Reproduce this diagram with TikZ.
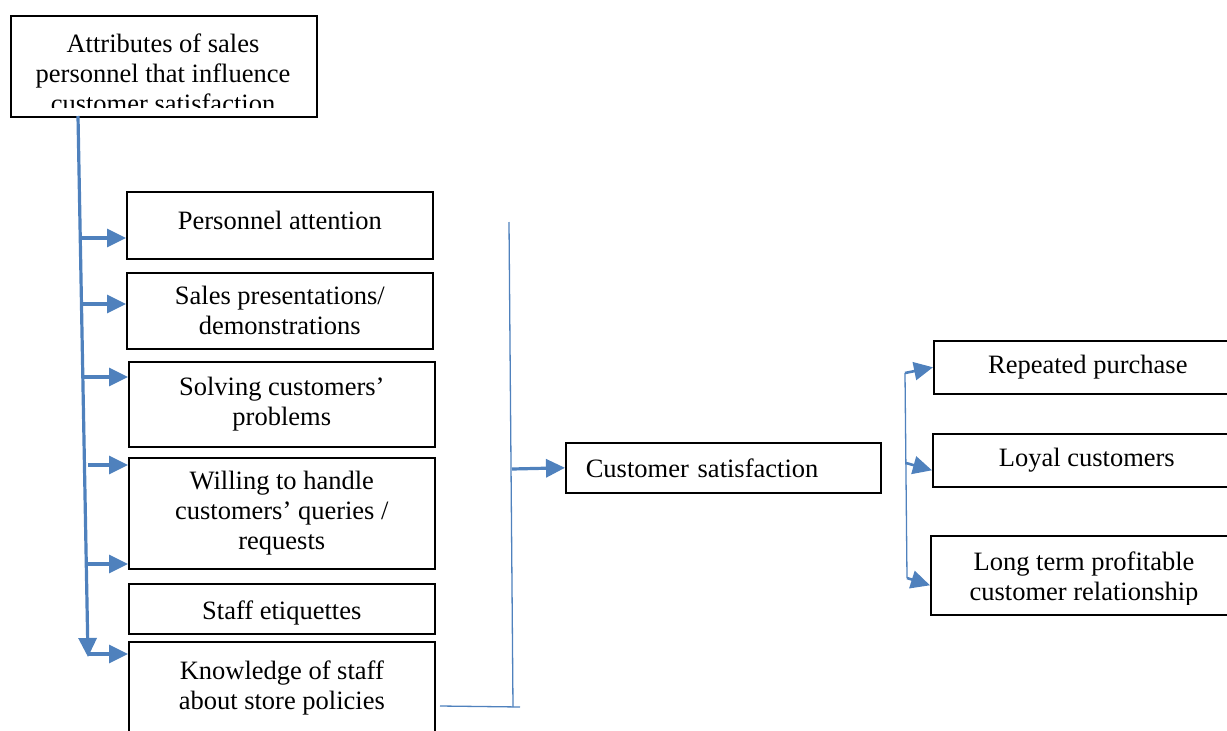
\documentclass[tikz,border=0pt]{standalone}
\usepackage{fontspec}
\setmainfont{Liberation Serif}
\usetikzlibrary{positioning,arrows.meta}
\definecolor{linkblue}{RGB}{79,129,189}

\tikzset{
  box/.style={draw, line width=1.6pt, anchor=north west, align=center,
    minimum width=306pt, inner sep=0pt, font=\fontsize{26.5}{30}\selectfont},
  label/.style={align=center, inner sep=0pt, font=\fontsize{26.5}{30}\selectfont},
  feed/.style={draw=linkblue, line width=3.2pt, -{Triangle[length=19pt,width=18pt]}},
  rail/.style={draw=linkblue, line width=1.3pt},
}

\begin{document}
\begin{tikzpicture}[x=1pt,y=-1pt]
  \useasboundingbox (0,0) rectangle (1227,731);

  % attributes (left column)
  \node [box, minimum height=101pt] (attr) at (10,15) {};
  \begin{scope}
    \clip (10,15) rectangle (316,107);
    \node [label] (attrtext) at (163,73) {Attributes of sales\\personnel that influence\\customer satisfaction};
  \end{scope}

  \node [box, minimum height=67pt, text depth=10pt] (pa) at (126,191) {Personnel attention};
  \node [box, minimum height=76pt] (sp) at (126,272) {Sales presentations/\\demonstrations};
  \node [box, minimum height=85pt] (sc) at (128,361) {Solving customers'\\problems};
  \node [box, minimum height=111pt] (wh) at (128,457) {Willing to handle\\customers' queries /\\requests};
  \node [box, minimum height=50pt, text height=27pt] (se) at (128,583) {Staff etiquettes};
  \node [box, minimum height=92pt] (kn) at (128,641) {Knowledge of staff\\about store policies};

  % outcome
  \node [box, minimum width=315pt, minimum height=50pt, text width=275pt,
         align=left, inner xsep=20pt] (cs) at (565,442) {Customer satisfaction};

  \node [box, minimum width=308pt, minimum height=53pt] (rp) at (933,340) {Repeated purchase};
  \node [box, minimum width=308pt, minimum height=53pt] (lc) at (932,433) {Loyal customers};
  \node [box, minimum width=308pt, minimum height=79pt] (lt) at (930,535) {};
  \begin{scope}
    \clip (930,535) rectangle (1227,604);
    \node [label] (lttext) at (1084,579) {Long term profitable\\customer relationship};
  \end{scope}

  % spine and branches
  \coordinate (spinetop) at (78,116);
  \coordinate (spinebot) at (88,657);
  \coordinate (b1) at (80,238);
  \coordinate (b2) at (80,304);
  \coordinate (b3) at (82,377);
  \coordinate (b4) at (88,465);
  \coordinate (b5) at (86,564);
  \coordinate (b6) at (88,654);

  \draw [feed] (spinetop) -- (spinebot);
  \draw [feed] (b1) -- (b1 -| pa.west);
  \draw [feed] (b2) -- (b2 -| sp.west);
  \draw [feed] (b3) -- (b3 -| sc.west);
  \draw [feed] (b4) -- (b4 -| wh.west);
  \draw [feed] (b5) -- (b5 -| wh.west);
  \draw [feed] (b6) -- (b6 -| kn.west);

  % bracket into customer satisfaction
  \coordinate (railtop) at (509,222);
  \coordinate (railbot) at (513,707);
  \coordinate (railend) at (440,706);
  \coordinate (railmid) at (512,469);
  \draw [rail] (railtop) -- (railbot);
  \draw [rail] (railend) -- ([xshift=7pt]railbot);
  \draw [feed] (railmid) -- (cs.west);

  % fork to results
  \coordinate (fork1) at (905,373);
  \coordinate (fork2) at (906,463);
  \coordinate (fork3) at (907,578);
  \draw [rail] (fork1) -- (fork3);
  \draw [feed, line width=2.6pt] (fork1) -- (rp.west);
  \draw [feed, line width=2.6pt] (fork2) -- ([yshift=-10pt]lc.west);
  \draw [feed, line width=2.6pt] (fork3) -- ([yshift=-10pt]lt.west);
\end{tikzpicture}
\end{document}
